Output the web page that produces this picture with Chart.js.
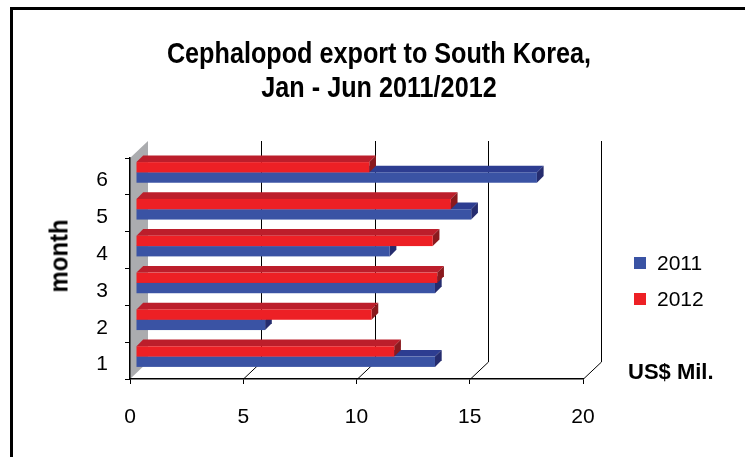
<!DOCTYPE html>
<html>
<head>
<meta charset="utf-8">
<script src="https://cdn.jsdelivr.net/npm/chart.js@4/dist/chart.umd.min.js"></script>
<style>
  html, body { margin: 0; padding: 0; background: #fff; }
  #wrap { position: relative; width: 745px; height: 457px; overflow: hidden; }
  #frame { position: absolute; left: 10px; top: 7px; width: 800px; height: 500px;
           border-left: 3px solid #000; border-top: 3px solid #000; }
  canvas { position: absolute; left: 0; top: 0; }
  .txt { position: absolute; color: #000; white-space: nowrap; }
  #title { left: 0; width: 758px; top: 36px; text-align: center; line-height: 35px;
           transform: scaleX(0.84); transform-origin: 379px 0;
           font: bold 30px "Liberation Sans", sans-serif; }
  #ytitle { left: 59px; top: 256px; transform: translate(-50%, -50%) rotate(-90deg) scaleX(0.92);
            font: bold 26px "Liberation Sans", sans-serif; }
  #unit { left: 628px; top: 359px; line-height: 24px;
          font: bold 22px "Liberation Sans", sans-serif; }
  .lg { position: absolute; left: 634px; height: 24px; line-height: 24px;
        font: 21px "Liberation Sans", sans-serif; }
  .lg i { position: absolute; left: 0; top: 6px; width: 12px; height: 12px; }
  .lg span { position: absolute; left: 23px; top: 0; }
</style>
</head>
<body>
<div id="wrap">
  <div id="frame"></div>
  <canvas id="c" width="745" height="457"></canvas>
  <div id="title" class="txt">Cephalopod export to South Korea,<br>Jan - Jun 2011/2012</div>
  <div id="ytitle" class="txt">month</div>
  <div id="unit" class="txt">US$ Mil.</div>
  <div id="legend"></div>
</div>
<script>
// Months, bottom to top on the chart
const months = ['1', '2', '3', '4', '5', '6'];
// Export value, US$ million
const values2011 = [13.2, 5.7, 13.2, 11.2, 14.8, 17.7];
const values2012 = [11.4, 10.4, 13.3, 13.1, 13.9, 10.3];
const xTicks = [0, 5, 10, 15, 20];

// Face colours for the extruded bars: front, top, side
const series = [
  { label: '2011', values: values2011, front: '#3A53A4', top: '#2D3D91', side: '#252C6E' },
  { label: '2012', values: values2012, front: '#ED2025', top: '#BC1E2B', side: '#8A1A1E' }
];

// Projection settings for the box: back wall depth and bar depth
const WALL = { dx: 18, dy: 17 };
const BAR_SHIFT = { dx: 6, dy: -4 };
const BAR_DEPTH = 6.7;

// Category axis runs top-down, so feed it month 6 first
const rev = a => a.slice().reverse();

const boxPlugin = {
  id: 'box3d',
  beforeDraw(chart) {
    const ctx = chart.ctx;
    const { left, right, top, bottom } = chart.chartArea;
    const xs = chart.scales.x;
    ctx.save();
    // left side wall
    ctx.fillStyle = '#ABACAF';
    ctx.beginPath();
    ctx.moveTo(left, top);
    ctx.lineTo(left + WALL.dx, top - WALL.dy);
    ctx.lineTo(left + WALL.dx, bottom - WALL.dy);
    ctx.lineTo(left, bottom);
    ctx.closePath();
    ctx.fill();
    // back wall gridlines and floor diagonals
    ctx.strokeStyle = '#000';
    ctx.lineWidth = 1;
    xTicks.forEach(v => {
      if (v === 0) return;
      const px = Math.round(xs.getPixelForValue(v)) + 0.5;
      ctx.beginPath();
      ctx.moveTo(px + WALL.dx, top - WALL.dy);
      ctx.lineTo(px + WALL.dx, bottom - WALL.dy);
      ctx.lineTo(px, bottom);
      ctx.stroke();
    });
    ctx.restore();
  },
  beforeDatasetsDraw(chart) {
    const ctx = chart.ctx;
    const d = BAR_DEPTH;
    ctx.save();
    ctx.translate(BAR_SHIFT.dx, BAR_SHIFT.dy);
    // draw 2011 first so 2012 front faces sit over its top faces
    series.forEach(s => {
      const dsIndex = chart.data.datasets.findIndex(ds => ds.label === s.label);
      const meta = chart.getDatasetMeta(dsIndex);
      meta.data.forEach(el => {
        const p = el.getProps(['x', 'y', 'base', 'height'], true);
        const x0 = Math.min(p.base, p.x), x1 = Math.max(p.base, p.x);
        const yt = p.y - p.height / 2, yb = p.y + p.height / 2;
        // top face
        ctx.fillStyle = s.top;
        ctx.beginPath();
        ctx.moveTo(x0, yt); ctx.lineTo(x1, yt);
        ctx.lineTo(x1 + d, yt - d); ctx.lineTo(x0 + d, yt - d);
        ctx.closePath(); ctx.fill();
        // end face
        ctx.fillStyle = s.side;
        ctx.beginPath();
        ctx.moveTo(x1, yt); ctx.lineTo(x1 + d, yt - d);
        ctx.lineTo(x1 + d, yb - d); ctx.lineTo(x1, yb);
        ctx.closePath(); ctx.fill();
        // front face
        ctx.fillStyle = s.front;
        ctx.fillRect(x0, yt, x1 - x0, yb - yt);
      });
    });
    ctx.restore();
    return false;
  }
};

const chart = new Chart(document.getElementById('c'), {
  type: 'bar',
  data: {
    labels: rev(months),
    // 2012 listed first so it sits above 2011 inside each month
    datasets: [series[1], series[0]].map(s => ({
      label: s.label,
      data: rev(s.values),
      backgroundColor: s.front,
      categoryPercentage: 0.56,
      barPercentage: 1.0
    }))
  },
  options: {
    indexAxis: 'y',
    responsive: false,
    devicePixelRatio: 1,
    animation: false,
    layout: { padding: { left: 0, right: 162, top: 158, bottom: 0 } },
    plugins: { legend: { display: false }, tooltip: { enabled: false }, title: { display: false } },
    scales: {
      x: {
        min: 0, max: 20,
        afterFit: s => { s.height = 78; },
        afterBuildTicks: s => { s.ticks = xTicks.map(v => ({ value: v })); },
        grid: { drawOnChartArea: false, drawTicks: true, tickLength: 5, color: '#000', lineWidth: 1 },
        border: { display: true, color: '#000', width: 1.5 },
        ticks: { color: '#000', padding: 21,
                 font: { family: '"Liberation Sans", sans-serif', size: 21 } }
      },
      y: {
        afterFit: s => { s.width = 130; },
        grid: { offset: true, drawOnChartArea: false, drawTicks: true, tickLength: 5, color: '#000', lineWidth: 1 },
        border: { display: true, color: '#000', width: 1.5 },
        ticks: { color: '#000', padding: 17, labelOffset: 4,
                 font: { family: '"Liberation Sans", sans-serif', size: 21 } }
      }
    }
  },
  plugins: [boxPlugin]
});

// legend entries in series order
const lg = document.getElementById('legend');
series.forEach((s, i) => {
  const row = document.createElement('div');
  row.className = 'lg';
  row.style.top = (251 + i * 36) + 'px';
  row.innerHTML = '<i style="background:' + s.front + '"></i><span>' + s.label + '</span>';
  lg.appendChild(row);
});
</script>
</body>
</html>
